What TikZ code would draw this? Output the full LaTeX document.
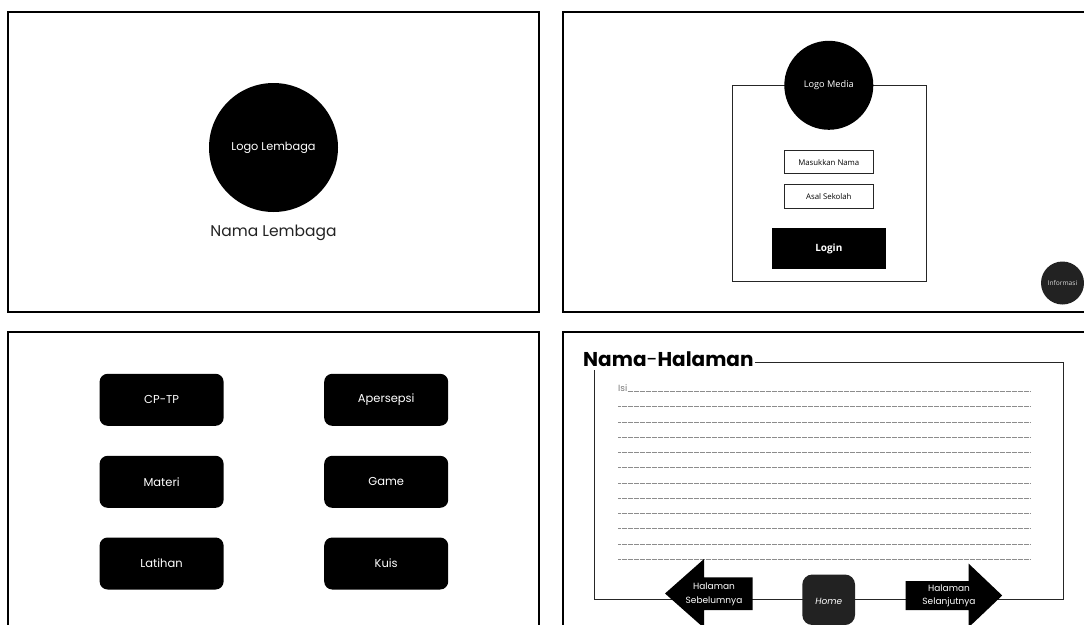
\documentclass[tikz,border=0pt]{standalone}
\usepackage{fontspec}
\setmainfont{Poppins}
\newfontfamily\opensans{Open Sans}
\usetikzlibrary{positioning}
\definecolor{inkgray}{RGB}{34,34,34}
\definecolor{dotgray}{RGB}{120,120,120}
\tikzset{
  panel/.style={draw=black,line width=1.6pt},
  menubtn/.style={fill=black,rounded corners=8pt,minimum width=124pt,minimum height=52pt,
    text=white,font=\fontsize{11.5}{13}\selectfont},
  inputbox/.style={draw=black!85,line width=1pt,minimum width=89pt,minimum height=23.3pt,
    font=\opensans\fontsize{7.8}{9}\selectfont},
  navtext/.style={text=white,align=center,font=\fontsize{9}{13.5}\selectfont},
  dotline/.style={black!45,line width=0.45pt,dash pattern=on 0.45pt off 0.75pt}
}

\begin{document}
\begin{tikzpicture}[x=1pt,y=-1pt]
  \useasboundingbox (0,0) rectangle (1084,624);
  \clip (0,0) rectangle (1084,624);

  % Panels
  \draw[panel] (8,12) rectangle (539,312);
  \draw[panel] (563,12) rectangle (1095,312);
  \draw[panel] (8,332) rectangle (539,640);
  \draw[panel] (563,332) rectangle (1095,640);

  % Splash screen
  \node[circle,fill=black,minimum size=129pt,text=white,font=\fontsize{11.3}{13}\selectfont]
    (logolembaga) at (273.5,147.5) {Logo Lembaga};
  \node[text=inkgray,font=\fontsize{15.5}{18}\selectfont] (namalembaga) at (273.5,232.5) {Nama Lembaga};

  % Login screen
  \draw[black!85,line width=1pt] (732.3,85.7) rectangle (926,281);
  \node[circle,fill=black,minimum size=89pt,text=white,font=\opensans\fontsize{9.2}{11}\selectfont]
    (logomedia) at (828.8,85.3) {Logo Media};
  \node[inputbox] (nama) at (828.8,162.3) {Masukkan Nama};
  \node[inputbox,below=10pt of nama] (sekolah) {Asal Sekolah};
  \node[fill=black,minimum width=114.3pt,minimum height=41pt,text=white,
    font=\opensans\bfseries\fontsize{10}{12}\selectfont] (login) at (828.8,248.8) {Login};
  \node[circle,fill=inkgray,minimum size=43pt,text=white!85!black,
    font=\opensans\fontsize{6.6}{8}\selectfont] (informasi) at (1062.5,283) {Informasi};

  % Main menu
  \foreach \name/\label/\x/\y in {cptp/CP-TP/161.6/399.8, apersepsi/Apersepsi/386.2/399.8,
      materi/Materi/161.6/481.8, game/Game/386.2/481.8,
      latihan/Latihan/161.6/563.5, kuis/Kuis/386.2/563.5} {
    \node[menubtn] (\name) at (\x,\y) {\label};
  }

  % Content page
  \draw[black!85,line width=1.1pt] (594.8,362.7) rectangle (1063.4,599.7);
  \node[fill=white,anchor=base west,inner xsep=1pt,inner ysep=4pt,
    font=\bfseries\fontsize{20}{24}\selectfont] (judul) at (582,366) {Nama\textmd{-}Halaman};
  \node[anchor=base west,inner sep=0pt,text=dotgray,font=\fontsize{9}{10}\selectfont]
    (isi) at (618,391.3) {Isi};
  \draw[dotline] (isi.base east) -- (1029.7,391.3);
  \foreach \i in {1,...,11} {
    \draw[dotline] (618,391.3+15.25*\i) -- (1029.7,391.3+15.25*\i);
  }

  % Navigation
  \fill[black] (665,593.5) -- (704,559) -- (704,577.3) -- (752.5,577.3)
    -- (752.5,610) -- (704,610) -- (704,628) -- cycle;
  \node[navtext] (sebelumnya) at (714,594.5) {Halaman\\Sebelumnya};
  \fill[inkgray,rounded corners=10pt] (802.3,574.5) rectangle (855,625);
  \node[text=white,font=\itshape\fontsize{9}{10}\selectfont] (home) at (828.7,601) {Home};
  \fill[black] (1002.2,595.5) -- (968.5,563.5) -- (968.5,581) -- (905.5,581)
    -- (905.5,610) -- (968.5,610) -- (968.5,627.5) -- cycle;
  \node[navtext] (selanjutnya) at (949,596) {Halaman\\Selanjutnya};
\end{tikzpicture}
\end{document}
